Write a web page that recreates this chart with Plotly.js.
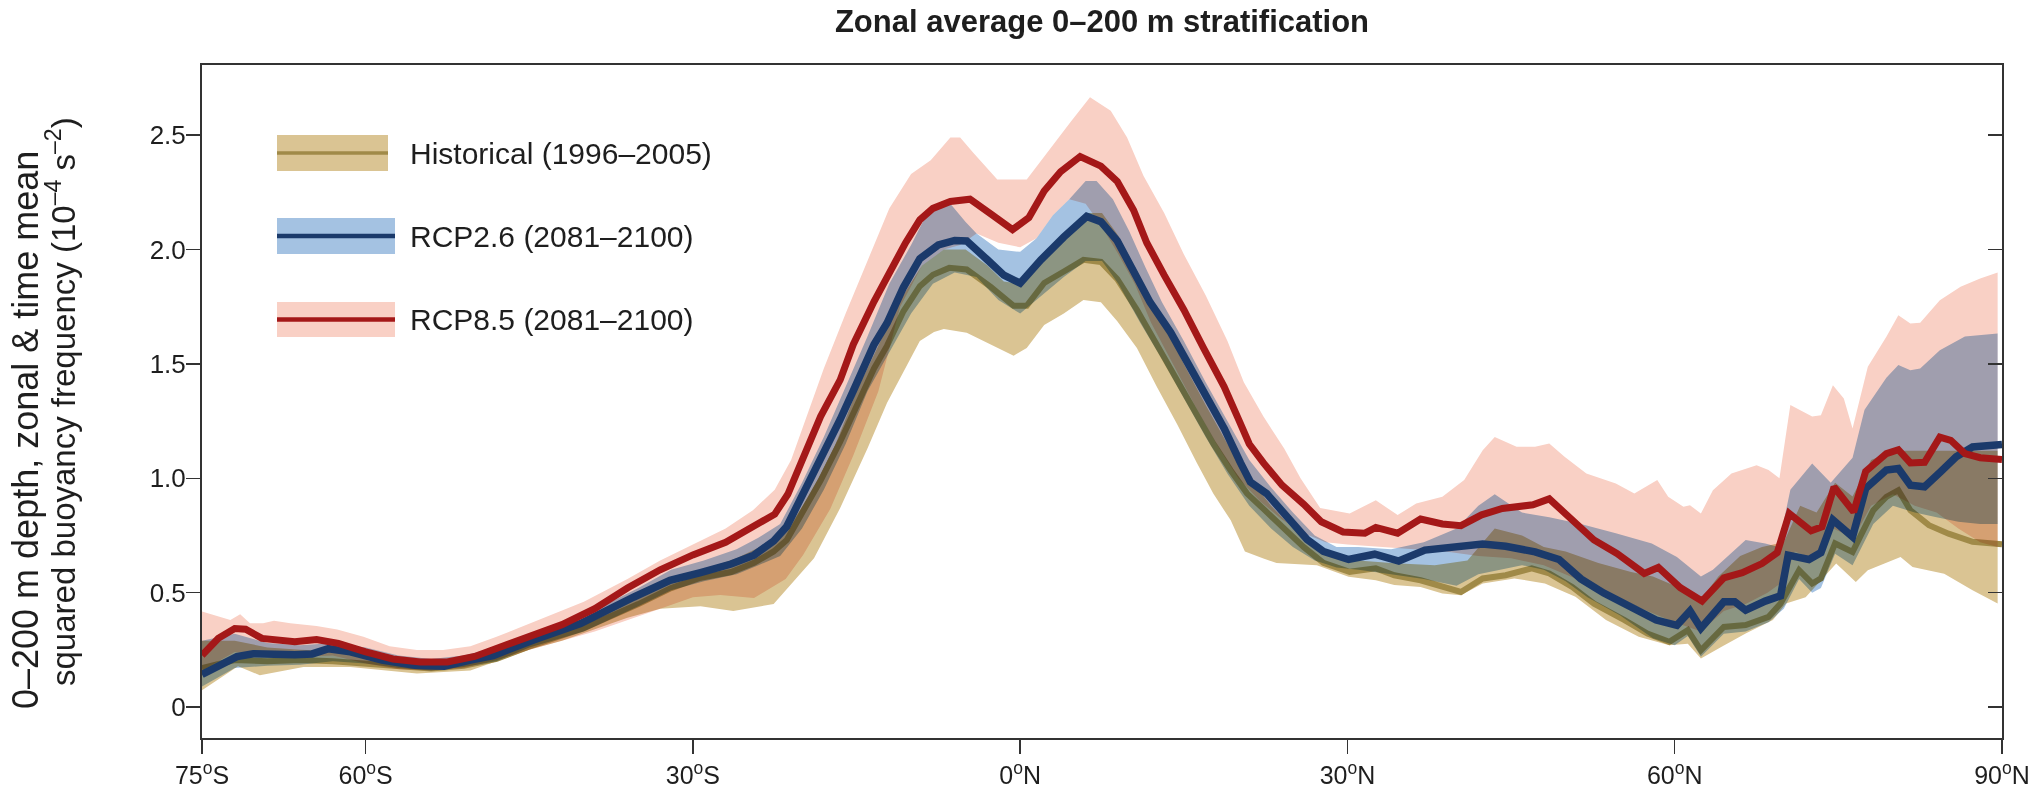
<!DOCTYPE html>
<html>
<head>
<meta charset="utf-8">
<script src="https://cdn.plot.ly/plotly-3.0.1.min.js"></script>
<style>
html,body{margin:0;padding:0;background:#fff;}
#chart{width:2032px;height:797px;}
.js-fill{mix-blend-mode:multiply;}
</style>
</head>
<body>
<div id="chart"></div>
<script>
// ---------------- DATA (latitude in degrees, value in 10^-4 s^-2) ----------------
const tickLat  = [-75, -60, -30, 0, 30, 60, 90];
const tickText = ['75<sup>o</sup>S','60<sup>o</sup>S','30<sup>o</sup>S','0<sup>o</sup>N','30<sup>o</sup>N','60<sup>o</sup>N','90<sup>o</sup>N'];
const yTickVals = [0, 0.5, 1, 1.5, 2, 2.5];
const yTickText = ['0', '0.5', '1.0', '1.5', '2.0', '2.5'];

// Historical (1996–2005) multi-model mean
const histLat = [-75,-72,-69,-66,-63,-60,-57,-54,-51,-48,
  -45,-40,-35,-32,-29.3,-26.5,-24.4,-22.6,-21.4,-19.9,
  -18.3,-16.5,-15.3,-13.4,-12.2,-10.7,-9.2,-8,-6.5,-4.9,
  -2.7,-0.6,0.6,2.2,4,5.8,7.4,8.9,10.7,12.5,
  14.4,16.2,17.7,19.3,20.8,22.3,24.2,26,27.8,30.2,
  32.6,34.3,36.7,38.7,40.4,42.4,44.5,46.9,48.5,50.6,
  52.6,55.4,57.5,59.5,61.2,62.4,64.5,66.5,68.6,69.7,
  71.4,72.6,73.4,74.7,76.3,78.2,79.4,80.5,81.6,83.3,
  85.1,87.3,90];
const histMean = [0.17,0.205,0.20,0.205,0.20,0.19,0.175,0.168,0.18,0.21,
  0.265,0.345,0.45,0.52,0.565,0.59,0.63,0.68,0.73,0.85,
  0.99,1.16,1.28,1.48,1.58,1.73,1.84,1.89,1.92,1.913,
  1.837,1.754,1.754,1.854,1.904,1.955,1.946,1.871,1.737,1.586,
  1.436,1.285,1.151,1.034,0.933,0.866,0.783,0.699,0.63,0.591,
  0.606,0.576,0.554,0.525,0.503,0.562,0.576,0.606,0.584,0.525,
  0.452,0.38,0.321,0.285,0.336,0.248,0.35,0.358,0.394,0.452,
  0.598,0.54,0.562,0.715,0.678,0.86,0.919,0.948,0.86,0.795,
  0.758,0.722,0.712];
// Historical range
const histUpLat = [-75,-72,-69,-66,-63,-60,-57,-54,-51,-48,
  -45,-40,-35,-32,-29,-26,-23,-21,-19,-17,
  -15,-13,-11,-9,-7,-5,-3,-1.5,0,2,
  4,6,7.5,9,11,13,15,17,19,21,
  23,25,27,29,31,34,38,41,43.5,46,
  48,50,53,56,58,60,62.4,64,66,68,
  70,71.5,73,74.7,76.3,78,80,82,84,86,89.6];
const histUp = [0.29,0.29,0.26,0.25,0.245,0.23,0.21,0.195,0.205,0.24,
  0.29,0.37,0.48,0.55,0.60,0.65,0.72,0.80,0.95,1.14,
  1.38,1.58,1.78,1.93,2.0,2.0,1.93,1.86,1.85,1.96,
  2.06,2.16,2.16,2.06,1.88,1.70,1.50,1.32,1.15,1.0,
  0.88,0.78,0.70,0.66,0.64,0.63,0.62,0.64,0.78,0.75,
  0.70,0.68,0.63,0.59,0.57,0.53,0.47,0.57,0.66,0.70,
  0.72,0.88,0.85,0.98,0.92,1.08,1.12,1.12,1.12,1.12,1.12];
const histLoLat = [-75,-71.7,-69.7,-65.7,-61.4,-55.3,-50.4,-45,-42,-39,
  -36,-33,-29.3,-26.3,-22.6,-18.9,-16.5,-14,-12.2,-10.4,
  -9.2,-7.9,-7,-4.9,-2.7,-0.6,0.6,2.2,4,5.8,
  7.4,8.9,10.7,12.5,14.4,16.2,17.7,19.3,20.6,22.3,
  23.5,25.5,27.2,30.1,32.6,34.3,36.7,38.7,40.4,42.4,
  45.3,48.1,50.9,53.7,56.7,59.5,61.2,62.4,64.3,66.5,
  69,70.2,72,74.8,76.6,77.7,80.7,81.8,84.7,87.3,89.6];
const histLo = [0.073,0.178,0.139,0.175,0.175,0.146,0.16,0.25,0.29,0.34,
  0.39,0.43,0.44,0.42,0.45,0.65,0.87,1.13,1.33,1.49,
  1.6,1.64,1.653,1.636,1.586,1.536,1.57,1.67,1.72,1.779,
  1.77,1.687,1.57,1.402,1.235,1.067,0.933,0.816,0.68,0.649,
  0.63,0.625,0.62,0.569,0.554,0.533,0.525,0.496,0.489,0.54,
  0.562,0.54,0.482,0.38,0.307,0.27,0.277,0.212,0.263,0.321,
  0.38,0.452,0.48,0.627,0.547,0.598,0.656,0.612,0.583,0.51,0.452];

// RCP2.6 (2081–2100) mean
const rcp26Lat = [-75,-73.6,-71.8,-70.3,-68.5,-66.5,-64.9,-63.4,-61.4,-58.5,
  -55.5,-52.8,-50.4,-48.3,-44.6,-40.3,-35.4,-32.1,-29.3,-26.5,
  -24.4,-22.6,-21.4,-19.9,-18.3,-16.5,-15.3,-13.4,-12.2,-10.7,
  -9.2,-7.5,-6,-4.9,-3,-1.5,0,1.9,4,6.1,
  7.4,8.9,10.4,11.9,13.8,15.6,17.1,18.7,20.2,21.1,
  22.6,24.5,26.3,27.8,30.1,32.5,34.7,37.1,40,42.4,
  44.5,47.2,49.4,51.4,53.5,56,58.3,60.2,61.4,62.4,
  64.5,65.5,66.5,68.3,69.7,70.4,72.3,73.4,74.5,76.3,
  77.5,79.4,80.5,81.6,82.9,84.4,85.8,87.3,90];
const rcp26Mean = [0.142,0.175,0.22,0.233,0.229,0.228,0.232,0.255,0.241,0.205,
  0.182,0.178,0.205,0.225,0.293,0.365,0.481,0.554,0.588,0.625,
  0.664,0.726,0.789,0.929,1.085,1.257,1.382,1.585,1.679,1.835,
  1.96,2.02,2.04,2.038,1.955,1.888,1.853,1.955,2.055,2.145,
  2.122,2.038,1.904,1.77,1.637,1.486,1.352,1.218,1.067,0.984,
  0.933,0.833,0.732,0.68,0.645,0.668,0.638,0.686,0.70,0.713,
  0.703,0.678,0.645,0.56,0.498,0.438,0.38,0.357,0.42,0.344,
  0.46,0.46,0.423,0.463,0.486,0.664,0.645,0.675,0.818,0.744,
  0.955,1.036,1.043,0.97,0.963,1.03,1.094,1.137,1.148];
// RCP2.6 range
const rcp26UpLat = [-75,-72,-69,-66,-63,-60,-57,-54,-51,-48,
  -45,-40,-35,-32,-29,-26,-24,-22,-20,-18,
  -16,-14,-12,-10,-8.2,-6.4,-5,-4,-2,0,
  1.5,3,4.5,6,7,8.5,10,11.5,13,15,
  17,19,21,23,25,27,29,31,34,37,
  40,42,43.5,46,48.5,51.4,54.6,57.9,60.2,62.4,
  63.5,66.5,68.3,69.5,70.6,72.6,74.3,76.3,77.4,79.4,
  80.5,81.6,82.5,84.3,86.6,89.6];
const rcp26Up = [0.29,0.32,0.28,0.27,0.28,0.26,0.225,0.21,0.225,0.26,
  0.32,0.40,0.52,0.60,0.64,0.69,0.74,0.80,0.98,1.18,
  1.40,1.62,1.85,2.02,2.19,2.2,2.12,2.07,2.0,1.99,
  2.05,2.15,2.22,2.3,2.3,2.22,2.08,1.92,1.77,1.60,
  1.42,1.25,1.08,0.96,0.85,0.75,0.70,0.70,0.69,0.72,
  0.78,0.88,0.93,0.85,0.83,0.80,0.76,0.715,0.656,0.57,
  0.60,0.73,0.715,0.70,0.95,1.065,0.98,1.09,1.30,1.44,
  1.495,1.472,1.48,1.56,1.62,1.633];
const rcp26LoLat = [-75,-72,-69,-66,-63,-60,-57,-54,-51,-48,
  -45,-40,-35,-32,-29,-26,-24,-22,-20,-18,
  -16,-14,-12,-10,-8,-6,-4,-2,0,2,
  4,6,7.5,9,11,13,15,17,19,21,
  23,25,27,29,31,34,37,40,42,44,
  46,48,50,52,55,58,60,61.2,62.4,64.5,
  66.5,68.6,70,71.4,72.6,73.4,74.7,76.3,78.2,80,
  82,84,86,88,89.6];
const rcp26Lo = [0.09,0.17,0.18,0.185,0.2,0.19,0.17,0.16,0.175,0.2,
  0.26,0.33,0.44,0.51,0.55,0.58,0.62,0.66,0.78,0.95,
  1.15,1.38,1.55,1.72,1.85,1.9,1.88,1.78,1.72,1.8,
  1.88,1.95,1.95,1.85,1.68,1.52,1.35,1.18,1.02,0.88,
  0.78,0.70,0.64,0.61,0.60,0.58,0.56,0.53,0.58,0.60,
  0.62,0.60,0.55,0.48,0.40,0.30,0.27,0.31,0.22,0.32,
  0.33,0.37,0.43,0.56,0.50,0.52,0.67,0.62,0.80,0.88,
  0.85,0.83,0.81,0.80,0.80];

// RCP8.5 (2081–2100) mean
const rcp85Lat = [-75,-73.5,-72,-71,-69.5,-68,-66.5,-64.5,-62.5,-60,
  -57.5,-55,-52.5,-50,-47.5,-45,-42,-39,-36,-33,
  -30,-27,-24.5,-22.5,-21.3,-20,-18.3,-16.5,-15.3,-13.4,
  -12,-10.5,-9.2,-8,-6.4,-4.6,-2.7,-0.7,0.8,2.2,
  3.7,5.5,7.4,8.9,10.4,11.6,13.2,15,16.8,18.7,
  20,21,22.3,24,26,27.6,29.6,31.6,32.6,34.6,
  36.7,38.7,40.4,42.3,44.2,47,48.5,50.3,52.6,54.7,
  57.2,58.5,60.5,62.5,64.5,66.2,68,69.4,70.5,72.5,
  73.5,74.6,76.4,77.5,79.4,80.5,81.6,82.9,84.3,85.3,
  86.6,88,90];
const rcp85Mean = [0.226,0.30,0.343,0.34,0.30,0.292,0.285,0.295,0.278,0.241,
  0.21,0.197,0.197,0.221,0.263,0.31,0.36,0.43,0.52,0.60,
  0.665,0.72,0.785,0.843,0.93,1.085,1.27,1.43,1.585,1.773,
  1.9,2.03,2.13,2.18,2.21,2.22,2.156,2.087,2.14,2.256,
  2.34,2.407,2.365,2.298,2.172,2.03,1.888,1.737,1.57,1.40,
  1.26,1.15,1.067,0.97,0.886,0.81,0.765,0.76,0.785,0.76,
  0.822,0.80,0.793,0.84,0.868,0.884,0.91,0.831,0.73,0.671,
  0.584,0.61,0.522,0.463,0.565,0.587,0.627,0.675,0.846,0.77,
  0.788,0.962,0.853,1.03,1.108,1.125,1.067,1.07,1.18,1.166,
  1.108,1.09,1.082];
// RCP8.5 range
const rcp85UpLat = [-75,-72.4,-71.5,-70.6,-69.4,-68.4,-66.9,-64.5,-62.6,-60.2,
  -57.8,-55.3,-52.9,-50.4,-48,-44.9,-40,-36,-33,-30,
  -27,-24.5,-22.5,-21,-19.5,-18,-16,-14,-12,-10,
  -8.2,-6.4,-5.5,-4.3,-2.1,0.6,2.2,4.6,6.4,8.3,
  9.8,11.3,13.2,15,17,19,20.5,22.3,24.2,25.7,
  27.5,30.2,32.6,34.6,36.3,38.7,40.7,42.4,43.5,45.5,
  47.2,48.5,49.9,51.9,54.6,56.3,58.4,59.4,60.8,61.4,
  62.4,63.5,65.2,67.5,68.6,69.6,70.6,72.6,73.4,74.5,
  75.5,76.3,77.7,79.4,80.5,81.6,82.5,84.3,86.2,88,
  89.6];
const rcp85Up = [0.417,0.38,0.406,0.366,0.366,0.377,0.366,0.354,0.339,0.307,
  0.266,0.249,0.249,0.266,0.307,0.366,0.46,0.56,0.64,0.71,
  0.78,0.86,0.95,1.08,1.28,1.48,1.72,1.95,2.18,2.33,
  2.39,2.49,2.49,2.423,2.306,2.306,2.407,2.557,2.666,2.607,
  2.49,2.323,2.16,1.98,1.80,1.60,1.42,1.27,1.13,1.0,
  0.87,0.846,0.904,0.839,0.89,0.919,0.992,1.123,1.181,1.138,
  1.138,1.152,1.094,1.021,0.977,0.933,0.992,0.919,0.875,0.882,
  0.846,0.948,1.021,1.057,1.036,1.0,1.32,1.27,1.276,1.407,
  1.349,1.218,1.488,1.619,1.713,1.677,1.68,1.778,1.837,1.874,
  1.9];
const rcp85LoLat = [-75,-72,-69,-66,-63,-60,-57,-54,-51,-48,
  -45,-42,-39,-36,-33,-30,-27.5,-24.4,-21.5,-19.9,
  -17.4,-15.3,-13,-11,-9,-7,-5.5,-4,-2,0,
  1.5,3,4.5,6,7.5,9,10.5,12,14,16,
  18,20,22,24,26,28,30,33,36,39,
  42,45,48,51,54,57,60,62.4,64.5,66.5,
  68.5,70,71,72.6,74.5,76.4,78,80,82,84,
  86,88,89.6];
const rcp85Lo = [0.16,0.24,0.225,0.22,0.225,0.19,0.165,0.16,0.17,0.205,
  0.25,0.29,0.33,0.38,0.43,0.48,0.49,0.476,0.56,0.664,
  0.867,1.1,1.38,1.75,1.93,2.0,2.02,2.07,2.03,2.01,
  2.05,2.15,2.22,2.2,2.1,1.98,1.85,1.68,1.5,1.32,
  1.15,1.0,0.9,0.82,0.76,0.72,0.71,0.70,0.69,0.68,
  0.66,0.65,0.62,0.56,0.50,0.43,0.37,0.33,0.42,0.45,
  0.50,0.55,0.68,0.65,0.78,0.74,0.88,0.93,0.88,0.85,
  0.78,0.72,0.70];

// ---------------- STYLE ----------------
const FONT = 'Liberation Sans, Arial, Helvetica, sans-serif';
const C = {
  histBand: 'rgb(218,196,147)', histLine: 'rgb(160,138,72)',
  b26Band: 'rgb(164,194,226)', b26Line: 'rgb(27,58,107)',
  b85Band: 'rgb(249,208,197)', b85Line: 'rgb(164,24,24)',
  axis: '#333333', text: '#1e1e1e'
};

function band(upLat, upVal, loLat, loVal, color) {
  return {
    x: upLat.concat(loLat.slice().reverse()),
    y: upVal.concat(loVal.slice().reverse()),
    type: 'scatter', mode: 'lines', fill: 'toself', fillcolor: color,
    line: {width: 0, color: color}, hoverinfo: 'skip', showlegend: false
  };
}
function meanLine(lat, val, color, w) {
  return {x: lat, y: val, type: 'scatter', mode: 'lines',
    line: {color: color, width: w, shape: 'linear'}, hoverinfo: 'skip', showlegend: false};
}

const traces = [
  band(histUpLat, histUp, histLoLat, histLo, C.histBand),
  meanLine(histLat, histMean, C.histLine, 6),
  band(rcp26UpLat, rcp26Up, rcp26LoLat, rcp26Lo, C.b26Band),
  band(rcp85UpLat, rcp85Up, rcp85LoLat, rcp85Lo, C.b85Band),
  meanLine(rcp26Lat, rcp26Mean, C.b26Line, 7.5),
  meanLine(rcp85Lat, rcp85Mean, C.b85Line, 7),
  {x: [null], y: [null], yaxis: 'y2', type: 'scatter', mode: 'lines', showlegend: false, hoverinfo: 'skip'}
];

// plot area in pixels
const W = 2032, H = 797;
const L = 202, R = 2002, T = 65, B = 738;
const px2fx = p => (p - L) / (R - L);
const py2fy = p => (B - p) / (B - T);

const yRange = [-0.1356, 2.807];

const legendItems = [
  {label: 'Historical (1996–2005)', band: C.histBand, line: C.histLine, lw: 3.5, y0: 135, y1: 171, x1: 388},
  {label: 'RCP2.6 (2081–2100)', band: C.b26Band, line: C.b26Line, lw: 4.5, y0: 218, y1: 254, x1: 395},
  {label: 'RCP8.5 (2081–2100)', band: C.b85Band, line: C.b85Line, lw: 4.5, y0: 302, y1: 337, x1: 395}
];
const shapes = [];
const annotations = [];
legendItems.forEach(it => {
  shapes.push({type: 'rect', xref: 'paper', yref: 'paper',
    x0: px2fx(277), x1: px2fx(it.x1), y0: py2fy(it.y1), y1: py2fy(it.y0),
    fillcolor: it.band, line: {width: 0}, layer: 'above'});
  const yc = (it.y0 + it.y1) / 2;
  shapes.push({type: 'line', xref: 'paper', yref: 'paper',
    x0: px2fx(277), x1: px2fx(it.x1), y0: py2fy(yc), y1: py2fy(yc),
    line: {color: it.line, width: it.lw}, layer: 'above'});
  annotations.push({xref: 'paper', yref: 'paper', x: px2fx(408), y: py2fy(yc),
    xanchor: 'left', yanchor: 'middle', showarrow: false, text: it.label,
    font: {family: FONT, size: 30, color: C.text}});
});
// y-axis title (two lines)
annotations.push({xref: 'paper', yref: 'paper', x: px2fx(25), y: py2fy(430),
  xanchor: 'center', yanchor: 'middle', showarrow: false, textangle: -90,
  text: '0–200 m depth, zonal &amp; time mean',
  font: {family: FONT, size: 36, color: C.text}});
annotations.push({xref: 'paper', yref: 'paper', x: px2fx(61), y: py2fy(402),
  xanchor: 'center', yanchor: 'middle', showarrow: false, textangle: -90,
  text: 'squared buoyancy frequency (10<sup>–4</sup> s<sup>–2</sup>)',
  font: {family: FONT, size: 33, color: C.text}});

const layout = {
  width: W, height: H,
  margin: {l: L, r: W - R, t: T, b: H - B, pad: 0},
  paper_bgcolor: '#ffffff', plot_bgcolor: '#ffffff',
  showlegend: false,
  title: {text: '<b>Zonal average 0–200 m stratification</b>',
    font: {family: FONT, size: 31, color: C.text},
    x: 0.5, xref: 'paper', y: 1 - 21 / H, yref: 'container', yanchor: 'middle'},
  xaxis: {range: [-75, 90], tickvals: tickLat, ticktext: tickText,
    showgrid: false, zeroline: false, showline: true, mirror: true,
    linecolor: C.axis, linewidth: 2, ticks: 'outside', ticklen: 14, tickwidth: 1.5,
    tickcolor: C.axis, ticklabeloverflow: 'allow',
    tickfont: {family: FONT, size: 25, color: C.text}},
  yaxis: {range: yRange, tickvals: yTickVals, ticktext: yTickText,
    showgrid: false, zeroline: false, showline: true,
    linecolor: C.axis, linewidth: 2, ticks: 'outside', ticklen: 14, tickwidth: 1.5,
    tickcolor: C.axis, ticklabelstandoff: -5,
    tickfont: {family: FONT, size: 26, color: C.text}},
  yaxis2: {range: yRange, tickvals: yTickVals, overlaying: 'y', side: 'right',
    showticklabels: false, showgrid: false, zeroline: false, showline: true,
    linecolor: C.axis, linewidth: 2, ticks: 'inside', ticklen: 14, tickwidth: 1.5, tickcolor: C.axis},
  shapes: shapes,
  annotations: annotations
};

Plotly.newPlot('chart', traces, layout, {staticPlot: true, displayModeBar: false});
</script>
</body>
</html>
